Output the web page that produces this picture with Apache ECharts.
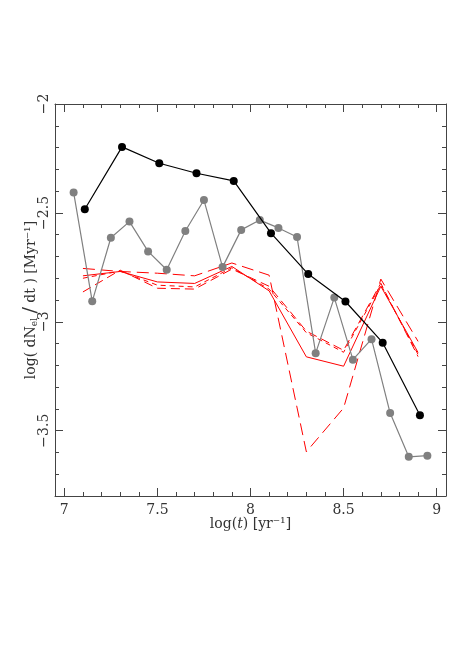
<!DOCTYPE html>
<html>
<head>
<meta charset="utf-8">
<script src="https://cdn.jsdelivr.net/npm/echarts@6/dist/echarts.min.js"></script>
<style>
html,body{margin:0;padding:0;background:#fff;}
#chart{width:458px;height:648px;}
</style>
</head>
<body>
<div id="chart"></div>
<script>
// ---- data ----
const blackT = [7.11, 7.31, 7.51, 7.71, 7.91, 8.11, 8.31, 8.51, 8.71, 8.91];
const blackRate = [-2.483, -2.197, -2.272, -2.318, -2.353, -2.593, -2.781, -2.907, -3.096, -3.429];

const greyT = [7.05, 7.15, 7.25, 7.35, 7.45, 7.55, 7.65, 7.75, 7.85, 7.95,
               8.05, 8.15, 8.25, 8.35, 8.45, 8.55, 8.65, 8.75, 8.85, 8.95];
const greyRate = [-2.406, -2.906, -2.614, -2.540, -2.677, -2.761, -2.583, -2.441, -2.749, -2.578,
                  -2.533, -2.569, -2.611, -3.144, -2.889, -3.174, -3.080, -3.419, -3.620, -3.615];

const redT = [7.1, 7.3, 7.5, 7.7, 7.9, 8.1, 8.3, 8.5, 8.7, 8.9];
const redLongDash = [-2.755, -2.769, -2.777, -2.789, -2.730, -2.786, -3.597, -3.396, -2.804, -3.090];
const redSolid    = [-2.789, -2.769, -2.817, -2.824, -2.746, -2.858, -3.161, -3.204, -2.837, -3.141];
const redDash     = [-2.863, -2.763, -2.846, -2.850, -2.758, -2.837, -3.043, -3.131, -2.823, -3.160];
const redDash2    = [-2.800, -2.767, -2.832, -2.840, -2.752, -2.850, -3.050, -3.140, -2.830, -3.150];

const xTickValues = [7, 7.5, 8, 8.5, 9];
const xTickLabels = ['7', '7.5', '8', '8.5', '9'];
const yTickValues = [-3.5, -3, -2.5, -2];
const yTickLabels = ['\u22123.5', '\u22123', '\u22122.5', '\u22122'];

// ---- helpers ----
const FONT = 'DejaVu Serif';
const FRAME = '#444';
const TXT = '#333';
function pairs(xs, ys) { return xs.map((x, i) => [x, ys[i]]); }
function labelFor(values, labels) {
  return function (v) {
    for (let i = 0; i < values.length; i++) if (Math.abs(values[i] - v) < 1e-6) return labels[i];
    return '';
  };
}
const X_MIN = 6.95, X_MAX = 9.05, Y_MIN = -3.8, Y_MAX = -2;

function axis(dim, pos, step, tickLen, showLine, extra) {
  const isX = dim === 'x';
  const a = {
    type: 'value',
    position: pos,
    min: isX ? X_MIN : Y_MIN,
    max: isX ? X_MAX : Y_MAX,
    minInterval: step,
    maxInterval: step,
    splitNumber: Math.round(((isX ? X_MAX - X_MIN : Y_MAX - Y_MIN)) / step),
    axisLine: { show: showLine, onZero: false, lineStyle: { color: FRAME, width: 1 } },
    axisTick: { show: true, inside: true, length: tickLen, lineStyle: { color: FRAME, width: 1 } },
    axisLabel: { show: false },
    splitLine: { show: false },
    minorTick: { show: false }
  };
  return Object.assign(a, extra || {});
}

const chart = echarts.init(document.getElementById('chart'), null, { renderer: 'canvas' });

const xMainExtra = {
  axisLabel: {
    show: true, margin: 7, fontFamily: FONT, fontSize: 14, color: TXT,
    formatter: labelFor(xTickValues, xTickLabels), hideOverlap: false
  },
  name: 'log({i|t}) [yr\u207B\u00B9]',
  nameLocation: 'middle',
  nameGap: 21,
  nameMoveOverlap: false,
  nameTextStyle: {
    fontFamily: FONT, fontSize: 14, color: TXT,
    rich: { i: { fontFamily: FONT, fontSize: 14, fontStyle: 'italic', color: TXT } }
  }
};
const yMainExtra = {
  axisLabel: {
    show: true, margin: 4, rotate: 90, fontFamily: FONT, fontSize: 14, color: TXT,
    formatter: labelFor(yTickValues, yTickLabels), hideOverlap: false
  },
  name: 'log( dN{sub|el} {sl|/} dt ) [Myr\u207B\u00B9]',
  nameLocation: 'middle',
  nameRotate: 90,
  nameGap: 14,
  nameMoveOverlap: false,
  nameTextStyle: {
    fontFamily: FONT, fontSize: 14, color: TXT,
    rich: {
      sub: { fontFamily: FONT, fontSize: 9, color: TXT, padding: [7, 0, 0, 0] },
      sl: { fontFamily: FONT, fontSize: 19, color: TXT }
    }
  }
};

const option = {
  backgroundColor: '#ffffff',
  animation: false,
  grid: { left: 55, right: 12, top: 104, bottom: 152, containLabel: false },
  xAxis: [
    axis('x', 'bottom', 0.5, 8, true, xMainExtra),
    axis('x', 'bottom', 0.1, 4, false),
    axis('x', 'top', 0.5, 8, true),
    axis('x', 'top', 0.1, 4, false)
  ],
  yAxis: [
    axis('y', 'left', 0.5, 8, true, yMainExtra),
    axis('y', 'left', 0.1, 4, false),
    axis('y', 'right', 0.5, 8, true),
    axis('y', 'right', 0.1, 4, false)
  ],
  series: [
    {
      type: 'line', name: 'redLongDash', data: pairs(redT, redLongDash), symbol: 'none',
      lineStyle: { color: '#ff0000', width: 1, type: [12, 6] }, z: 2
    },
    {
      type: 'line', name: 'redDash', data: pairs(redT, redDash), symbol: 'none',
      lineStyle: { color: '#ff0000', width: 1, type: [9, 5] }, z: 2
    },
    {
      type: 'line', name: 'redDash2', data: pairs(redT, redDash2), symbol: 'none',
      lineStyle: { color: '#ff0000', width: 1, type: [5, 4] }, z: 2
    },
    {
      type: 'line', name: 'redSolid', data: pairs(redT, redSolid), symbol: 'none',
      lineStyle: { color: '#ff0000', width: 1, type: 'solid' }, z: 2
    },
    {
      type: 'line', name: 'grey', data: pairs(greyT, greyRate),
      symbol: 'circle', symbolSize: 8, showAllSymbol: true,
      itemStyle: { color: '#808080' },
      lineStyle: { color: '#808080', width: 1.2 }, z: 3
    },
    {
      type: 'line', name: 'black', data: pairs(blackT, blackRate),
      symbol: 'circle', symbolSize: 8, showAllSymbol: true,
      itemStyle: { color: '#000000' },
      lineStyle: { color: '#000000', width: 1.2 }, z: 4
    }
  ]
};
chart.setOption(option);
</script>
</body>
</html>
